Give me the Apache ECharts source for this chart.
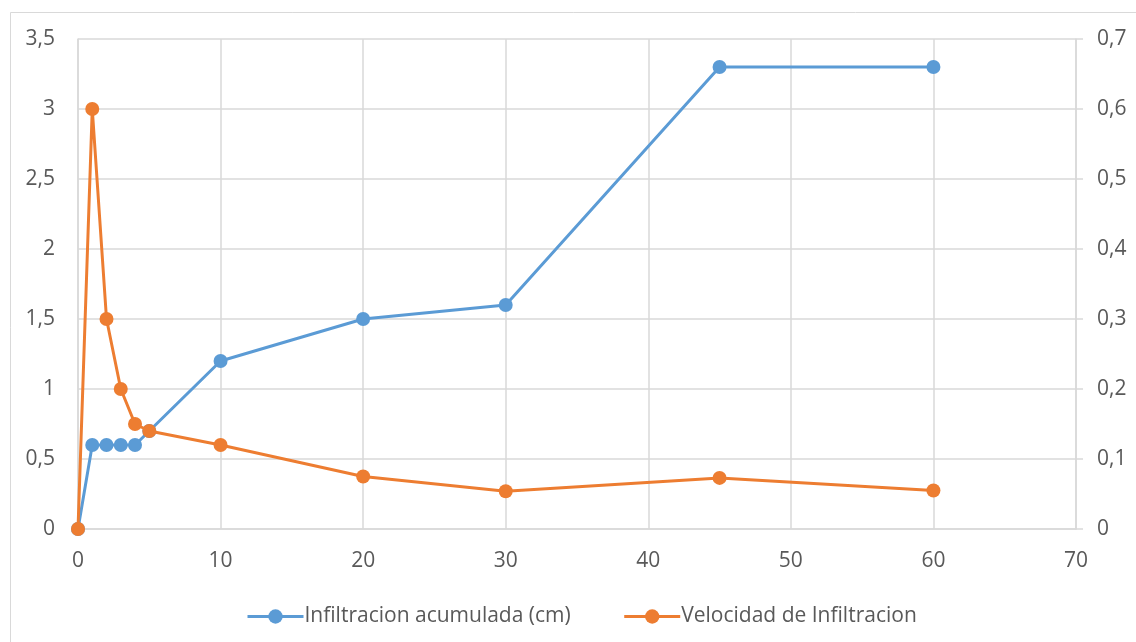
<!DOCTYPE html>
<html>
<head>
<meta charset="utf-8">
<script src="https://cdn.jsdelivr.net/npm/echarts@6/dist/echarts.min.js"></script>
<style>
html,body{margin:0;padding:0;background:#fff;}
#chart{width:1136px;height:642px;}
</style>
</head>
<body>
<div id="chart"></div>
<script>
// Time (min) and measurements
const tiempo = [0, 1, 2, 3, 4, 5, 10, 20, 30, 45, 60];
const infiltracionAcumulada = [0, 0.6, 0.6, 0.6, 0.6, 0.7, 1.2, 1.5, 1.6, 3.3, 3.3];
const velocidadInfiltracion = [0, 0.6, 0.3, 0.2, 0.15, 0.14, 0.12, 0.075, 0.054, 0.073, 0.055];
const nombres = ['Infiltracion acumulada (cm)', 'Velocidad de Infiltracion'];

const font = '"Open Sans", sans-serif';
const gridColor = '#d9d9d9';
const textColor = '#595959';
const comma = v => String(Math.round(v * 100) / 100).replace('.', ',');

const pares = (xs, ys) => xs.map((x, i) => [x, ys[i]]);

const chart = echarts.init(document.getElementById('chart'));
chart.setOption({
  animation: false,
  backgroundColor: '#fff',
  textStyle: { fontFamily: font },
  graphic: [{
    type: 'rect', left: 8, top: 10, z: -10,
    shape: { width: 1140, height: 640 },
    style: { fill: 'none', stroke: '#d9d9d9', lineWidth: 1 }
  }],
  grid: { left: 78, right: 60, top: 39, bottom: 113, containLabel: false },
  legend: {
    top: 601, left: 241, itemGap: 52, itemWidth: 56, itemHeight: 18,
    textStyle: { fontFamily: font, fontSize: 21, color: textColor, padding: [0, 0, 0, -4] },
    lineStyle: { width: 3 },
    data: nombres
  },
  xAxis: {
    type: 'value', min: 0, max: 70, interval: 10,
    axisLine: { show: true, lineStyle: { color: gridColor, width: 1.5 } },
    axisTick: { show: false },
    splitLine: { show: true, lineStyle: { color: gridColor, width: 1.5 } },
    axisLabel: { color: textColor, fontSize: 21, margin: 22, fontFamily: font }
  },
  yAxis: [{
    type: 'value', min: 0, max: 3.5, interval: 0.5,
    axisLine: { show: true, lineStyle: { color: gridColor, width: 1.5 } },
    axisTick: { show: false },
    splitLine: { show: true, lineStyle: { color: gridColor, width: 1.5 } },
    axisLabel: { color: textColor, fontSize: 21, margin: 23, formatter: comma, fontFamily: font }
  }, {
    type: 'value', min: 0, max: 0.7, interval: 0.1,
    position: 'right',
    axisLine: { show: true, lineStyle: { color: gridColor, width: 1.5 } },
    axisTick: { show: true, inside: false, length: 7, lineStyle: { color: gridColor, width: 1.5 } },
    splitLine: { show: false },
    axisLabel: { color: textColor, fontSize: 21, margin: 21, formatter: comma, fontFamily: font }
  }],
  series: [{
    name: nombres[0], type: 'line', yAxisIndex: 0,
    data: pares(tiempo, infiltracionAcumulada),
    color: '#5b9bd5',
    lineStyle: { width: 3 }, symbol: 'circle', symbolSize: 14, z: 2
  }, {
    name: nombres[1], type: 'line', yAxisIndex: 1,
    data: pares(tiempo, velocidadInfiltracion),
    color: '#ed7d31',
    lineStyle: { width: 3 }, symbol: 'circle', symbolSize: 14, z: 3
  }]
});
</script>
</body>
</html>
